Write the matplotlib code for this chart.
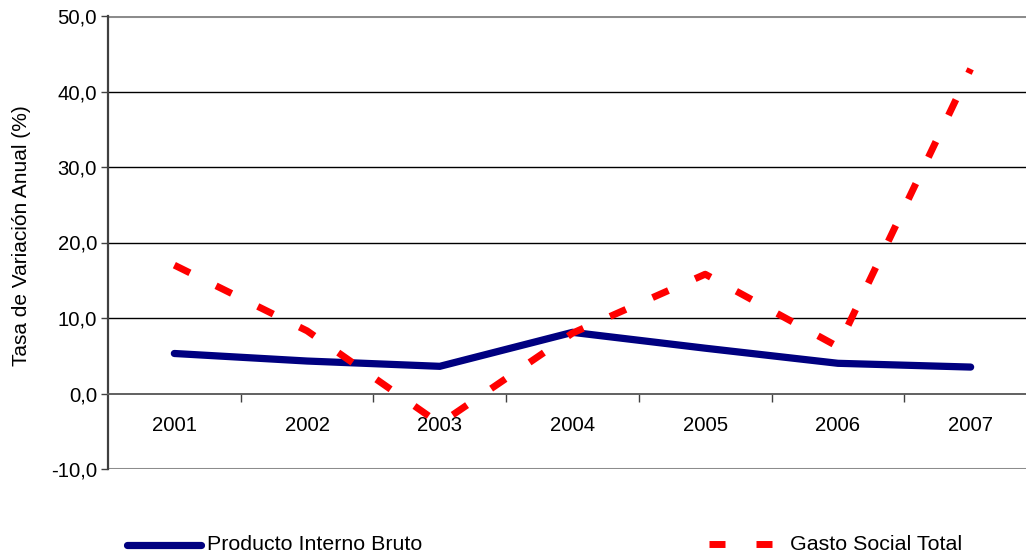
import matplotlib
matplotlib.use("Agg")
import matplotlib.pyplot as plt
from matplotlib.lines import Line2D

plt.rcParams['font.family'] = ['Liberation Sans', 'DejaVu Sans']

years = ['2001', '2002', '2003', '2004', '2005', '2006', '2007']
pib = [5.3, 4.3, 3.6, 8.1, 6.0, 4.0, 3.5]
gasto = [17.0, 8.3, -4.0, 8.0, 15.8, 6.2, 43.0]
y_ticks = [-10, 0, 10, 20, 30, 40, 50]

FS = 14.6
W, H = 1026, 559
fig = plt.figure(figsize=(W / 100, H / 100), dpi=100)
left, right, top, bottom = 108, 1037, 16, 469
ax = fig.add_axes([left / W, (H - bottom) / H, (right - left) / W, (bottom - top) / H])

x = list(range(len(years)))
ax.set_xlim(-0.5, len(years) - 0.5)
ax.set_ylim(-10, 50)

# gridlines
for v in [10, 20, 30, 40]:
    ax.axhline(v, color='black', lw=1.0, zorder=1)
ax.axhline(50, color='#8c8c8c', lw=2.2, zorder=1)
ax.axhline(-10, color='#8c8c8c', lw=2.2, zorder=1)

ax.plot(x, pib, color='#000080', lw=5.2, solid_capstyle='round', solid_joinstyle='miter', zorder=3)
ax.plot(x, gasto, color='#ff0000', lw=5.0, dashes=(2.5, 4.2), dash_capstyle='butt', zorder=4)

for s in ['top', 'right']:
    ax.spines[s].set_visible(False)
ax.spines['left'].set_color('#404040')
ax.spines['left'].set_linewidth(1.6)
ax.spines['bottom'].set_position(('data', 0))
ax.spines['bottom'].set_color('#606060')
ax.spines['bottom'].set_linewidth(1.4)

ax.set_yticks(y_ticks)
ax.set_yticklabels([f"{v:.1f}".replace('.', ',') for v in y_ticks], fontsize=FS)
ax.tick_params(axis='y', direction='out', length=5, width=1.0, color='#404040', pad=3)

ax.set_xticks(x)
ax.set_xticklabels(years, fontsize=FS)
ax.set_xticks([i + 0.5 for i in range(len(years))], minor=True)
ax.tick_params(axis='x', which='major', length=0, pad=16)
ax.tick_params(axis='x', which='minor', direction='out', length=6, width=1.0, color='#404040')

ax.set_ylabel('Tasa de Variación Anual (%)', fontsize=15)
ax.yaxis.set_label_coords(-77 / (right - left), (bottom - 236) / (bottom - top))

# legend (manual)
LFS = 15.4
ly = (H - 545) / H
fig.add_artist(Line2D([127 / W, 201 / W], [ly, ly], color='#000080', lw=5.2,
                      solid_capstyle='round', transform=fig.transFigure))
fig.text(207 / W, ly, 'Producto Interno Bruto', fontsize=LFS, va='center', ha='left')
for xa, xb in [(709, 725), (756, 772)]:
    fig.add_artist(Line2D([xa / W, xb / W], [ly + 1.5 / H, ly + 1.5 / H], color='#ff0000', lw=5.0,
                          solid_capstyle='butt', transform=fig.transFigure))
fig.text(790 / W, ly, 'Gasto Social Total', fontsize=LFS, va='center', ha='left')

fig.savefig('out.png', dpi=100)
